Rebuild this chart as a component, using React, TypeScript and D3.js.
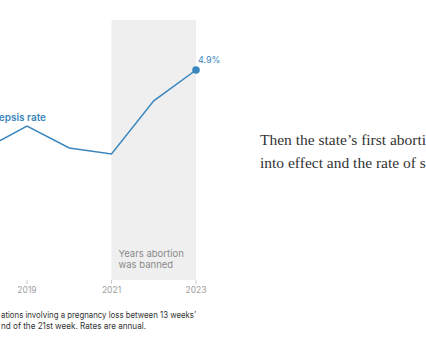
import React from 'react';
import * as d3 from 'd3';

const years = [2018, 2019, 2020, 2021, 2022, 2023];
const sepsisRate = [3.06, 3.59, 3.08, 2.94, 4.18, 4.9];
const tickYears = [2019, 2021, 2023];
const banStart = 2021;
const banEnd = 2023;

const noteLines = [
  "ations involving a pregnancy loss between 13 weeks’",
  'nd of the 21st week. Rates are annual.',
];
const noteWidths = [195, 145];
const storyLines = ['Then the state’s first abortion', 'into effect and the rate of sepsis'];

const blue = '#3a86bd';
const sans = 'Inter, "Noto Sans", sans-serif';

const App = () => {
  const width = 426;
  const height = 351;

  const x = d3.scaleLinear().domain([2019, 2023]).range([27, 196]);
  const y = d3.scaleLinear().domain([0, 4.9]).range([280, 70]);

  const line = d3
    .line<number>()
    .x((d, i) => x(years[i]))
    .y((d) => y(d));

  const last = sepsisRate.length - 1;

  return (
    <svg
      width={width}
      height={height}
      style={{ position: 'fixed', left: 0, top: 0, background: '#fff' }}
    >
      {/* ban period */}
      <rect x={x(banStart)} y={20} width={x(banEnd) - x(banStart)} height={y(0) - 20} fill="#efefef" />
      <text x={x(banStart) + 7} y={257} fontFamily={sans} fontSize={9.5} fill="#8a8a8a">
        Years abortion
      </text>
      <text x={x(banStart) + 7} y={268} fontFamily={sans} fontSize={9.5} fill="#8a8a8a">
        was banned
      </text>

      {/* x axis */}
      {tickYears.map((t) => (
        <g key={t}>
          <line x1={x(t)} x2={x(t)} y1={y(0)} y2={y(0) + 4} stroke="#ccc" />
          <text x={x(t)} y={293} textAnchor="middle" fontFamily={sans} fontSize={8.5} fill="#a0a0a0">
            {t}
          </text>
        </g>
      ))}

      <path d={line(sepsisRate) || ''} fill="none" stroke={blue} strokeWidth={1.5} />
      <circle cx={x(years[last])} cy={y(sepsisRate[last])} r={3.8} fill={blue} />
      <text x={x(years[last]) + 2} y={y(sepsisRate[last]) - 7} fontFamily={sans} fontSize={9} fill={blue}>
        4.9%
      </text>
      <text x={46} y={121} textAnchor="end" fontFamily={sans} fontSize={10} fontWeight={600} fill={blue}>
        Sepsis rate
      </text>

      {/* note */}
      {noteLines.map((l, i) => (
        <text
          key={i}
          x={1}
          y={318 + i * 11}
          textLength={noteWidths[i]}
          lengthAdjust="spacingAndGlyphs"
          fontFamily={sans}
          fontSize={8.3}
          fill="#333"
        >
          {l}
        </text>
      ))}

      {/* story text */}
      {storyLines.map((l, i) => (
        <text key={i} x={260} y={145 + i * 23} fontFamily='"Liberation Serif", serif' fontSize={15.5} fill="#333">
          {l}
        </text>
      ))}
    </svg>
  );
};

export default App;
